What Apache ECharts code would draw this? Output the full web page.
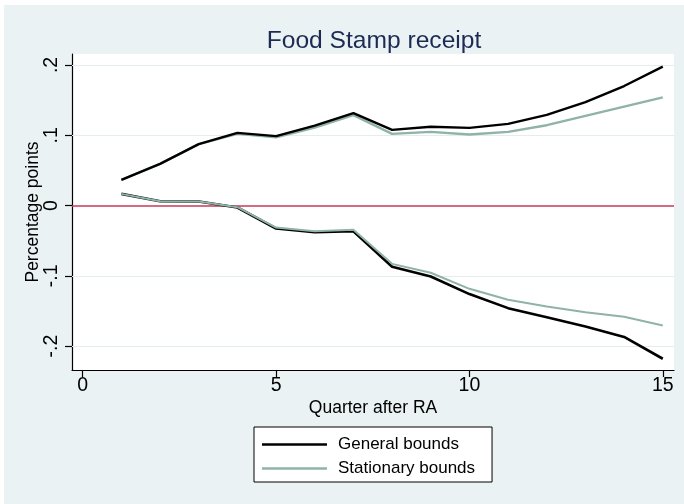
<!DOCTYPE html>
<html>
<head>
<meta charset="utf-8">
<script src="https://cdn.jsdelivr.net/npm/echarts@6/dist/echarts.min.js"></script>
<style>
  html, body { margin: 0; padding: 0; background: #ffffff; }
  #chart { position: absolute; left: 4px; top: 5px; width: 680px; height: 499px; background: #eaf2f3; }
</style>
</head>
<body>
<div id="chart"></div>
<script>
// Quarters after random assignment
const quarters = [1, 2, 3, 4, 5, 6, 7, 8, 9, 10, 11, 12, 13, 14, 15];

// Bounds on the effect, in percentage points
const generalUpper    = [0.0366, 0.0593, 0.0873, 0.1034, 0.0987, 0.1138, 0.1314, 0.1077, 0.1120, 0.1105, 0.1162, 0.1290, 0.1470, 0.1700, 0.1977];
const generalLower    = [0.0166, 0.0062, 0.0057, -0.0028, -0.0327, -0.0380, -0.0365, -0.0872, -0.1010, -0.1260, -0.1460, -0.1590, -0.1720, -0.1870, -0.2180];
const stationaryUpper = [0.0366, 0.0593, 0.0873, 0.1020, 0.0970, 0.1110, 0.1286, 0.1020, 0.1048, 0.1010, 0.1048, 0.1143, 0.1276, 0.1408, 0.1540];
const stationaryLower = [0.0166, 0.0062, 0.0057, -0.0023, -0.0313, -0.0365, -0.0346, -0.0830, -0.0957, -0.1185, -0.1340, -0.1436, -0.1517, -0.1583, -0.1707];

// Axis ticks
const xTicks = [0, 5, 10, 15];
const yTicks = [-0.2, -0.1, 0, 0.1, 0.2];
const yTickLabels = ['-.2', '-.1', '0', '.1', '.2'];

const FONT = "'Liberation Sans', Arial, Helvetica, sans-serif";
const BLACK = '#000000';
const SAGE = '#8fb3a9';

const pairs = (ys) => quarters.map((q, i) => [q, ys[i]]);

const chart = echarts.init(document.getElementById('chart'), null, { renderer: 'canvas' });

// Light horizontal rules at the labelled ticks, red reference line at zero
const gridLines = yTicks.filter(v => v !== 0).map(v => ({
  yAxis: v,
  lineStyle: { color: '#e4eded', width: 1.2, type: 'solid' }
}));
gridLines.push({ yAxis: 0, lineStyle: { color: '#c8385a', width: 1.6, type: 'solid' } });

chart.setOption({
  animation: false,
  backgroundColor: '#eaf2f3',
  title: {
    text: 'Food Stamp receipt',
    left: 365,
    top: 19,
    textAlign: 'center',
    textStyle: { fontFamily: FONT, fontSize: 24.6, fontWeight: 'normal', color: '#1c2b53' }
  },
  grid: { left: 68, top: 49, right: 10, bottom: 134, backgroundColor: '#ffffff', show: true, borderWidth: 0 },
  legend: {
    orient: 'vertical',
    left: 250,
    top: 422,
    backgroundColor: '#ffffff',
    borderColor: '#000000',
    borderWidth: 1,
    padding: [9, 17, 5, 8],
    itemWidth: 65,
    itemHeight: 2.4,
    itemGap: 7,
    textStyle: { fontFamily: FONT, fontSize: 17, lineHeight: 14, color: '#000000', padding: [0, 0, 0, 6] },
    data: [
      { name: 'General bounds', icon: 'rect' },
      { name: 'Stationary bounds', icon: 'rect' }
    ]
  },
  xAxis: {
    type: 'value',
    min: -0.277,
    max: 15.29,
    name: 'Quarter after RA',
    nameLocation: 'middle',
    nameGap: 29,
    nameMoveOverlap: false,
    nameTextStyle: { fontFamily: FONT, fontSize: 17.5, color: '#000000' },
    axisLine: { show: true, onZero: false, lineStyle: { color: '#000000', width: 1.2 } },
    axisTick: { show: true, length: 7, customValues: xTicks, lineStyle: { color: '#000000', width: 1.2 } },
    axisLabel: { fontFamily: FONT, fontSize: 19.5, color: '#000000', margin: 6, customValues: xTicks },
    splitLine: { show: false }
  },
  yAxis: {
    type: 'value',
    min: -0.234,
    max: 0.2156,
    name: 'Percentage points',
    nameLocation: 'middle',
    nameRotate: 90,
    nameGap: 30,
    nameMoveOverlap: false,
    nameTextStyle: { fontFamily: FONT, fontSize: 17.5, color: '#000000' },
    axisLine: { show: true, onZero: false, lineStyle: { color: '#000000', width: 1.2 } },
    axisTick: { show: true, length: 7, customValues: yTicks, lineStyle: { color: '#000000', width: 1.2 } },
    axisLabel: {
      fontFamily: FONT, fontSize: 19.5, color: '#000000', margin: 10, rotate: 90,
      customValues: yTicks,
      formatter: (v) => {
        const k = yTicks.findIndex(t => Math.abs(t - v) < 1e-9);
        return k >= 0 ? yTickLabels[k] : '';
      }
    },
    splitLine: { show: false }
  },
  series: [
    {
      name: 'General bounds', type: 'line', data: pairs(generalLower),
      symbol: 'none', lineStyle: { color: BLACK, width: 2.6 }, itemStyle: { color: BLACK },
      markLine: { silent: true, symbol: 'none', label: { show: false }, data: gridLines, z: 1 },
      z: 3
    },
    {
      name: 'Stationary bounds', type: 'line', data: pairs(stationaryLower),
      symbol: 'none', lineStyle: { color: SAGE, width: 2.0 }, itemStyle: { color: SAGE }, z: 4
    },
    {
      name: 'Stationary bounds', type: 'line', data: pairs(stationaryUpper),
      symbol: 'none', lineStyle: { color: SAGE, width: 2.4 }, itemStyle: { color: SAGE }, z: 5
    },
    {
      name: 'General bounds', type: 'line', data: pairs(generalUpper),
      symbol: 'none', lineStyle: { color: BLACK, width: 2.4 }, itemStyle: { color: BLACK }, z: 6
    }
  ]
});
</script>
</body>
</html>
